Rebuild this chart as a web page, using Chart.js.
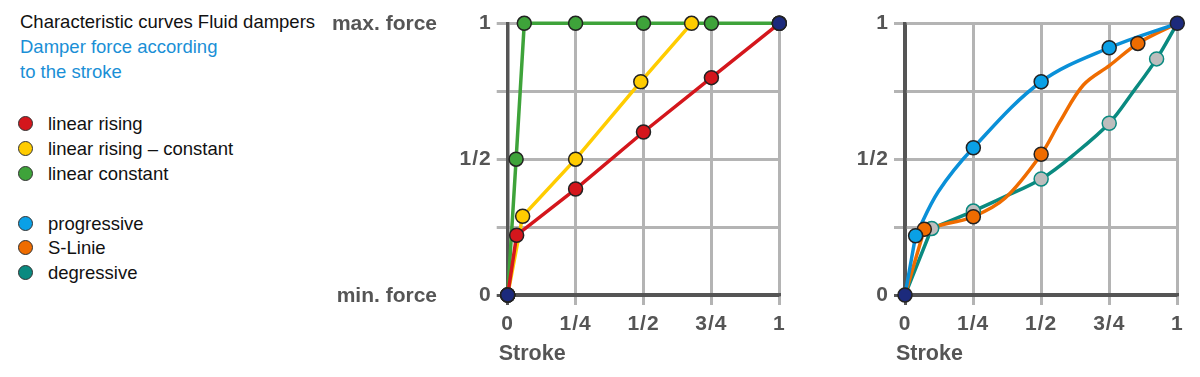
<!DOCTYPE html>
<html>
<head>
<meta charset="utf-8">
<script src="https://cdn.jsdelivr.net/npm/chart.js@4.4.1/dist/chart.umd.min.js"></script>
<style>
  html, body { margin: 0; padding: 0; background: #fff; width: 1200px; height: 377px; overflow: hidden; }
  body { position: relative; font-family: "Liberation Sans", Arial, sans-serif; }
  .txt { position: absolute; font-size: 18.5px; white-space: nowrap; line-height: 20px; }
  .title { left: 20px; top: 12px; color: #111; }
  .sub { left: 20px; color: #1a8fd6; }
  .leg { position: absolute; left: 18px; height: 20px; font-size: 18.5px; color: #111; white-space: nowrap; line-height: 20px; }
  .dot { display: inline-block; width: 13px; height: 13px; border-radius: 50%; border: 1.5px solid #333; vertical-align: middle; margin-right: 15px; position: relative; top: -2px; }
  #c1wrap { position: absolute; left: 320px; top: 0; width: 480px; height: 377px; }
  #c2wrap { position: absolute; left: 840px; top: 0; width: 360px; height: 377px; }
</style>
</head>
<body>
<div class="txt title">Characteristic curves Fluid dampers</div>
<div class="txt sub" style="top:37px">Damper force according</div>
<div class="txt sub" style="top:62px">to the stroke</div>
<div id="legend"></div>
<div id="c1wrap"><canvas id="c1" width="480" height="377"></canvas></div>
<div id="c2wrap"><canvas id="c2" width="360" height="377"></canvas></div>
<script>
// ---- tick labels ----
const strokeTicks = ['0', '1/4', '1/2', '3/4', '1'];
const forceTicks = ['0', '', '1/2', '', '1'];
const forceNames = ['min. force', 'max. force'];
const axisTitle = 'Stroke';

// ---- left chart series (markers on every point) ----
const linearRisingX = [0, 0.033, 0.25, 0.5, 0.75, 1];
const linearRisingY = [0, 0.22, 0.39, 0.6, 0.8, 1];
const risingConstantX = [0, 0.055, 0.25, 0.49, 0.677];
const risingConstantY = [0, 0.29, 0.5, 0.785, 1];
const linearConstantX = [0, 0.031, 0.061, 0.25, 0.5, 0.75, 1];
const linearConstantY = [0, 0.5, 1, 1, 1, 1, 1];

// ---- right chart: marked points ----
const progressiveX = [0.039, 0.251, 0.5, 0.75];
const progressiveY = [0.218, 0.542, 0.785, 0.91];
const sLinieX = [0.071, 0.251, 0.5, 0.855];
const sLinieY = [0.242, 0.288, 0.518, 0.926];
const degressiveX = [0.098, 0.251, 0.5, 0.75, 0.924];
const degressiveY = [0.245, 0.309, 0.427, 0.632, 0.869];

// ---- right chart: curve paths (first segment is straight) ----
const progressiveCurveX = [0, 0.039, 0.122, 0.251, 0.5, 0.75, 1];
const progressiveCurveY = [0, 0.218, 0.38, 0.542, 0.785, 0.91, 1];
const sLinieCurveX = [0, 0.071, 0.159, 0.251, 0.367, 0.5, 0.569, 0.655, 0.753, 0.855, 1];
const sLinieCurveY = [0, 0.242, 0.264, 0.288, 0.356, 0.518, 0.638, 0.773, 0.846, 0.926, 1];
const degressiveCurveX = [0, 0.098, 0.251, 0.367, 0.5, 0.618, 0.75, 0.838, 0.924, 1];
const degressiveCurveY = [0, 0.245, 0.309, 0.362, 0.427, 0.515, 0.632, 0.748, 0.869, 1];

// ---- endpoints ----
const endX = [0, 1];
const endY = [0, 1];

// ---- legend ----
const legendNames = ['linear rising', 'linear rising \u2013 constant', 'linear constant', 'progressive', 'S-Linie', 'degressive'];
const legendColors = ['#d4161c', '#ffcc00', '#3ea33a', '#0aa0e6', '#ef6c00', '#0a8a80'];
const legendTops = [114, 139, 164, 214, 238, 263];

const leg = document.getElementById('legend');
legendNames.forEach((n, i) => {
  const d = document.createElement('div');
  d.className = 'leg';
  d.style.top = legendTops[i] + 'px';
  d.innerHTML = '<span class="dot" style="background:' + legendColors[i] + '"></span>' + n;
  leg.appendChild(d);
});

const pts = (xs, ys) => xs.map((x, i) => ({ x: x, y: ys[i] }));

const GRID = '#b4b4b4';
const AXIS = '#555555';
const TXT = '#555555';
const FONT = '"Liberation Sans", Arial, sans-serif';

function lineDs(label, xs, ys, color, fill, border) {
  return {
    label: label, data: pts(xs, ys),
    borderColor: color, backgroundColor: fill,
    pointBorderColor: border, pointBorderWidth: 1.5, pointRadius: 7,
    borderWidth: 3.5, showLine: true, clip: false, tension: 0
  };
}
function pathDs(label, xs, ys, color, tension) {
  return {
    label: label, data: pts(xs, ys),
    borderColor: color, backgroundColor: color,
    pointRadius: 0, borderWidth: 3.5, showLine: true, clip: false,
    tension: tension, borderCapStyle: 'round', borderJoinStyle: 'round'
  };
}
function curvePair(label, xs, ys, color) {
  return [
    pathDs(label + ' start', xs.slice(0, 2), ys.slice(0, 2), color, 0),
    pathDs(label + ' curve', xs.slice(1), ys.slice(1), color, 0.35)
  ];
}
function markerDs(label, xs, ys, fill, border) {
  return {
    label: label, data: pts(xs, ys), showLine: false,
    backgroundColor: fill, pointBorderColor: border,
    pointBorderWidth: 1.5, pointRadius: 7, clip: false
  };
}
function endDs() {
  return markerDs('ends', endX, endY, '#1c2a7c', '#222');
}

const spacingPlugin = {
  id: 'spacing',
  beforeDraw(chart) { chart.ctx.letterSpacing = '1px'; }
};

const textPlugin = {
  id: 'texts',
  afterDraw(chart, args, opts) {
    const ctx = chart.ctx;
    const ys = chart.scales.y;
    ctx.save();
    ctx.letterSpacing = '0px';
    ctx.fillStyle = TXT;
    ctx.font = 'bold 21.5px ' + FONT;
    ctx.textBaseline = 'middle';
    ctx.textAlign = 'left';
    ctx.fillText(axisTitle, chart.chartArea.left - 9, 354);
    if (opts.forceLabels) {
      ctx.font = 'bold 21px ' + FONT;
      ctx.textAlign = 'right';
      ctx.fillText(forceNames[0], opts.forceRight, ys.getPixelForValue(0) + 1);
      ctx.fillText(forceNames[1], opts.forceRight, ys.getPixelForValue(1) + 1);
    }
    ctx.restore();
  }
};

function makeChart(id, datasets, yWidth, rightPad, forceLabels, forceRight) {
  return new Chart(document.getElementById(id), {
    type: 'scatter',
    data: { datasets: datasets },
    plugins: [spacingPlugin, textPlugin],
    options: {
      responsive: false,
      animation: false,
      events: [],
      layout: { autoPadding: false, padding: { left: 0, right: rightPad, top: 23.3, bottom: 0 } },
      plugins: {
        legend: { display: false },
        tooltip: { enabled: false },
        texts: { forceLabels: forceLabels, forceRight: forceRight }
      },
      scales: {
        x: {
          type: 'linear', min: 0, max: 1,
          afterFit: s => { s.height = 82; },
          afterBuildTicks: s => { s.ticks = strokeTicks.map((t, i) => ({ value: i / 4 })); },
          ticks: {
            callback: v => strokeTicks[Math.round(v * 4)],
            font: { family: FONT, size: 21, weight: 'bold' },
            color: TXT, padding: 7, maxRotation: 0, autoSkip: false
          },
          grid: {
            color: c => (c.tick && c.tick.value === 0) ? AXIS : GRID,
            lineWidth: 3, tickLength: 10
          },
          border: { display: true, color: AXIS, width: 3.5 }
        },
        y: {
          type: 'linear', min: 0, max: 1,
          afterFit: s => { s.width = yWidth; },
          afterBuildTicks: s => { s.ticks = forceTicks.map((t, i) => ({ value: i / 4 })); },
          ticks: {
            callback: v => forceTicks[Math.round(v * 4)],
            font: { family: FONT, size: 21, weight: 'bold' },
            color: TXT, padding: 5, autoSkip: false
          },
          grid: {
            color: c => (c.tick && c.tick.value === 0) ? AXIS : GRID,
            lineWidth: 3, tickLength: 11
          },
          border: { display: true, color: AXIS, width: 3.5 }
        }
      }
    }
  });
}

makeChart('c1', [
  endDs(),
  lineDs('linear rising', linearRisingX, linearRisingY, '#d4161c', '#d4161c', '#222'),
  lineDs('linear rising - constant', risingConstantX, risingConstantY, '#ffcc00', '#ffcc00', '#222'),
  lineDs('linear constant', linearConstantX, linearConstantY, '#3ea33a', '#3ea33a', '#222')
], 187.7, 20.7, true, 117);

makeChart('c2', [
  endDs(),
  markerDs('progressive', progressiveX, progressiveY, '#0aa0e6', '#222'),
  markerDs('S-Linie', sLinieX, sLinieY, '#ef6c00', '#222'),
  markerDs('degressive', degressiveX, degressiveY, '#bdbdbd', '#0a8a80'),
  ...curvePair('progressive line', progressiveCurveX, progressiveCurveY, '#0a90d8'),
  ...curvePair('S-Linie line', sLinieCurveX, sLinieCurveY, '#ef6c00'),
  ...curvePair('degressive line', degressiveCurveX, degressiveCurveY, '#0a8a80')
], 65, 22.7, false, 0);
</script>
</body>
</html>
